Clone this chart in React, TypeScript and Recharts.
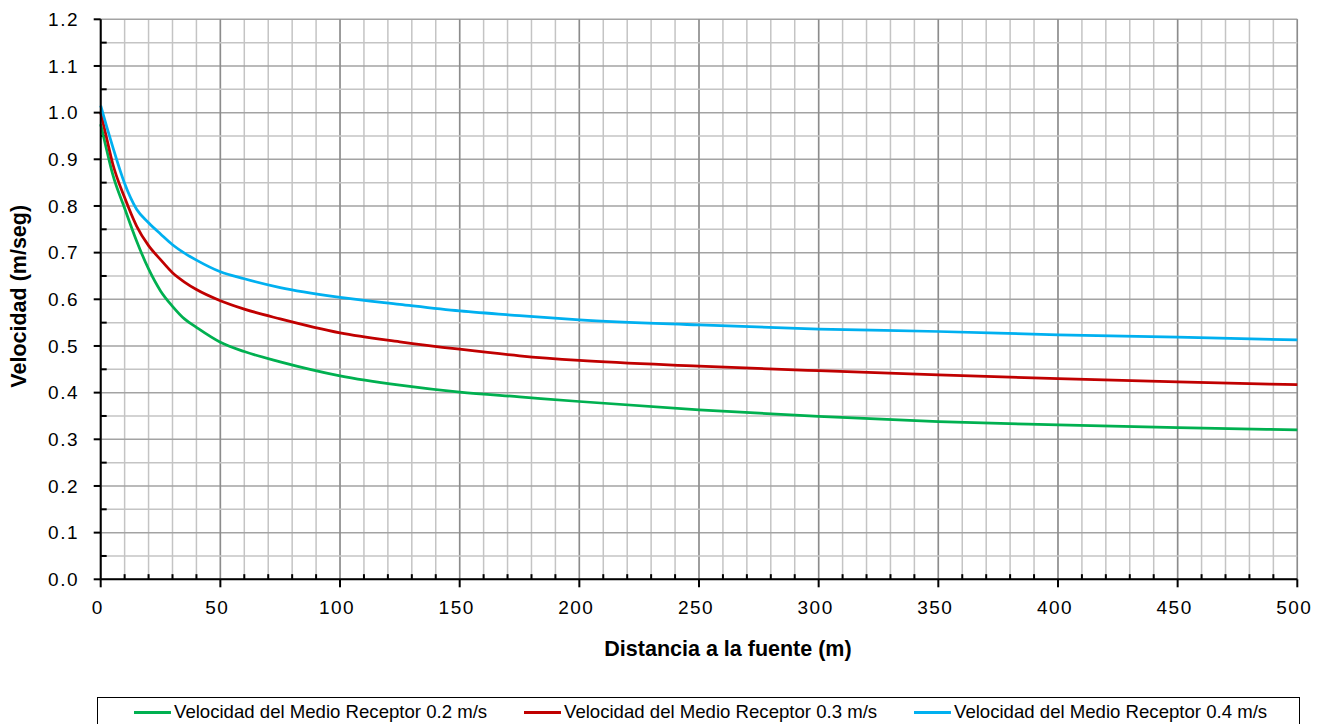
import React from 'react';
import { LineChart, Line, XAxis, YAxis, CartesianGrid, ReferenceLine, Label } from 'recharts';

// Distancia a la fuente (m)
const distancia = [0, 2.5, 5, 10, 15, 20, 25, 30, 35, 40, 50, 60, 75, 100, 125, 150, 175, 200, 250, 300, 350, 400, 450, 500];

// Velocidad (m/seg) for each receiving medium speed
const velocidad02 = [0.975, 0.92, 0.868, 0.795, 0.725, 0.665, 0.618, 0.585, 0.558, 0.54, 0.508, 0.488, 0.466, 0.436, 0.416, 0.401, 0.391, 0.381, 0.363, 0.349, 0.338, 0.331, 0.325, 0.32];
const velocidad03 = [1.0, 0.945, 0.891, 0.818, 0.757, 0.715, 0.685, 0.657, 0.637, 0.621, 0.597, 0.579, 0.558, 0.528, 0.509, 0.493, 0.479, 0.469, 0.457, 0.447, 0.438, 0.43, 0.423, 0.417];
const velocidad04 = [1.015, 0.97, 0.927, 0.848, 0.793, 0.764, 0.74, 0.717, 0.699, 0.684, 0.659, 0.644, 0.625, 0.604, 0.589, 0.575, 0.565, 0.556, 0.545, 0.536, 0.531, 0.524, 0.519, 0.513];

const xTicks = [0, 50, 100, 150, 200, 250, 300, 350, 400, 450, 500];
const yTicks = [0, 0.1, 0.2, 0.3, 0.4, 0.5, 0.6, 0.7, 0.8, 0.9, 1.0, 1.1, 1.2];
const xMinorTicks = Array.from({ length: 51 }, (_, i) => i * 10);
const yMinorTicks = Array.from({ length: 25 }, (_, i) => Math.round(i * 5) / 100);
const yHalfTicks = yMinorTicks.filter((t) => Math.round(t * 100) % 10 !== 0);

const series = [
  { key: 'v02', name: 'Velocidad del Medio Receptor 0.2 m/s', color: '#00B050', values: velocidad02 },
  { key: 'v03', name: 'Velocidad del Medio Receptor 0.3 m/s', color: '#C00000', values: velocidad03 },
  { key: 'v04', name: 'Velocidad del Medio Receptor 0.4 m/s', color: '#00B0F0', values: velocidad04 },
];

const data = distancia.map((d, i) => {
  const row: Record<string, number> = { distancia: d };
  series.forEach((s) => { row[s.key] = s.values[i]; });
  return row;
});

const font = 'Arial, "Liberation Sans", sans-serif';
const tickStyle = { fill: '#000', fontSize: 19, fontFamily: font, letterSpacing: 1.5 };

const App = () => {
  return (
    <div style={{ position: 'absolute', left: 0, top: 0, width: 1328, height: 724, background: '#fff', overflow: 'hidden' }}>
      <LineChart
        width={1328}
        height={724}
        data={data}
        margin={{ top: 19.3, right: 30.7, bottom: 104.7, left: 30.7 }}
      >
        <XAxis xAxisId="minor" type="number" dataKey="distancia" domain={[0, 500]} ticks={xMinorTicks} interval={0} hide />
        <CartesianGrid xAxisId="minor" horizontal={false} stroke="#c4c4c4" strokeWidth={1.5} />
        <CartesianGrid vertical={false} stroke="#a3a3a3" strokeWidth={1.5} />
        <CartesianGrid horizontal={false} stroke="#8c8c8c" strokeWidth={1.5} />

        {yHalfTicks.map((t) => (
          <ReferenceLine key={`yg${t}`} y={t} stroke="#c4c4c4" strokeWidth={1.5} />
        ))}

        <XAxis
          type="number"
          dataKey="distancia"
          domain={[0, 500]}
          ticks={xTicks}
          interval={0}
          height={40}
          tickSize={8}
          tickMargin={13}
          axisLine={{ stroke: '#000', strokeWidth: 2 }}
          tickLine={{ stroke: '#000', strokeWidth: 2 }}
          tick={{ ...tickStyle, dx: -3 }}
        >
          <Label
            content={({ viewBox }: any) => (
              <text
                x={viewBox.x + viewBox.width / 2 + 29}
                y={viewBox.y + 77}
                textAnchor="middle"
                fontFamily={font}
                fontWeight="bold"
                fontSize={21.5}
                fill="#000"
              >
                Distancia a la fuente (m)
              </text>
            )}
          />
        </XAxis>
        <YAxis
          type="number"
          domain={[0, 1.2]}
          ticks={yTicks}
          interval={0}
          width={70}
          tickSize={7}
          tickMargin={14.7}
          tickFormatter={(v: number) => v.toFixed(1)}
          axisLine={{ stroke: '#000', strokeWidth: 2 }}
          tickLine={{ stroke: '#000', strokeWidth: 2 }}
          tick={tickStyle}
        >
          <Label
            content={({ viewBox }: any) => {
              const cx = viewBox.x - 12;
              const cy = viewBox.y + viewBox.height / 2 - 3;
              return (
                <text
                  x={cx}
                  y={cy}
                  transform={`rotate(-90 ${cx} ${cy})`}
                  textAnchor="middle"
                  dominantBaseline="central"
                  fontFamily={font}
                  fontWeight="bold"
                  fontSize={21.5}
                  fill="#000"
                >
                  Velocidad (m/seg)
                </text>
              );
            }}
          />
        </YAxis>

        {xMinorTicks.filter((t) => t % 50 !== 0).map((t) => (
          <ReferenceLine key={`xm${t}`} segment={[{ x: t, y: 0 }, { x: t, y: 0.011 }]} stroke="#000" strokeWidth={2} />
        ))}
        {yHalfTicks.map((t) => (
          <ReferenceLine key={`ym${t}`} segment={[{ x: 0, y: t }, { x: 2.5, y: t }]} stroke="#000" strokeWidth={2} />
        ))}

        {series.map((s) => (
          <Line
            key={s.key}
            type="monotone"
            dataKey={s.key}
            name={s.name}
            stroke={s.color}
            strokeWidth={2.75}
            dot={false}
            activeDot={false}
            isAnimationActive={false}
          />
        ))}
      </LineChart>

      <div
        style={{
          position: 'absolute',
          left: 97,
          top: 697,
          width: 1203,
          height: 40,
          border: '1px solid #000',
          boxSizing: 'border-box',
          fontFamily: font,
          fontSize: 18.6,
          color: '#000',
        }}
      >
        {series.map((s, i) => (
          <div
            key={s.key}
            style={{ position: 'absolute', left: 36 + i * 390, top: 3, display: 'flex', alignItems: 'center', whiteSpace: 'nowrap' }}
          >
            <span style={{ display: 'inline-block', width: 37, height: 3, background: s.color, marginRight: 3 }} />
            <span>{s.name}</span>
          </div>
        ))}
      </div>
    </div>
  );
};

export default App;
